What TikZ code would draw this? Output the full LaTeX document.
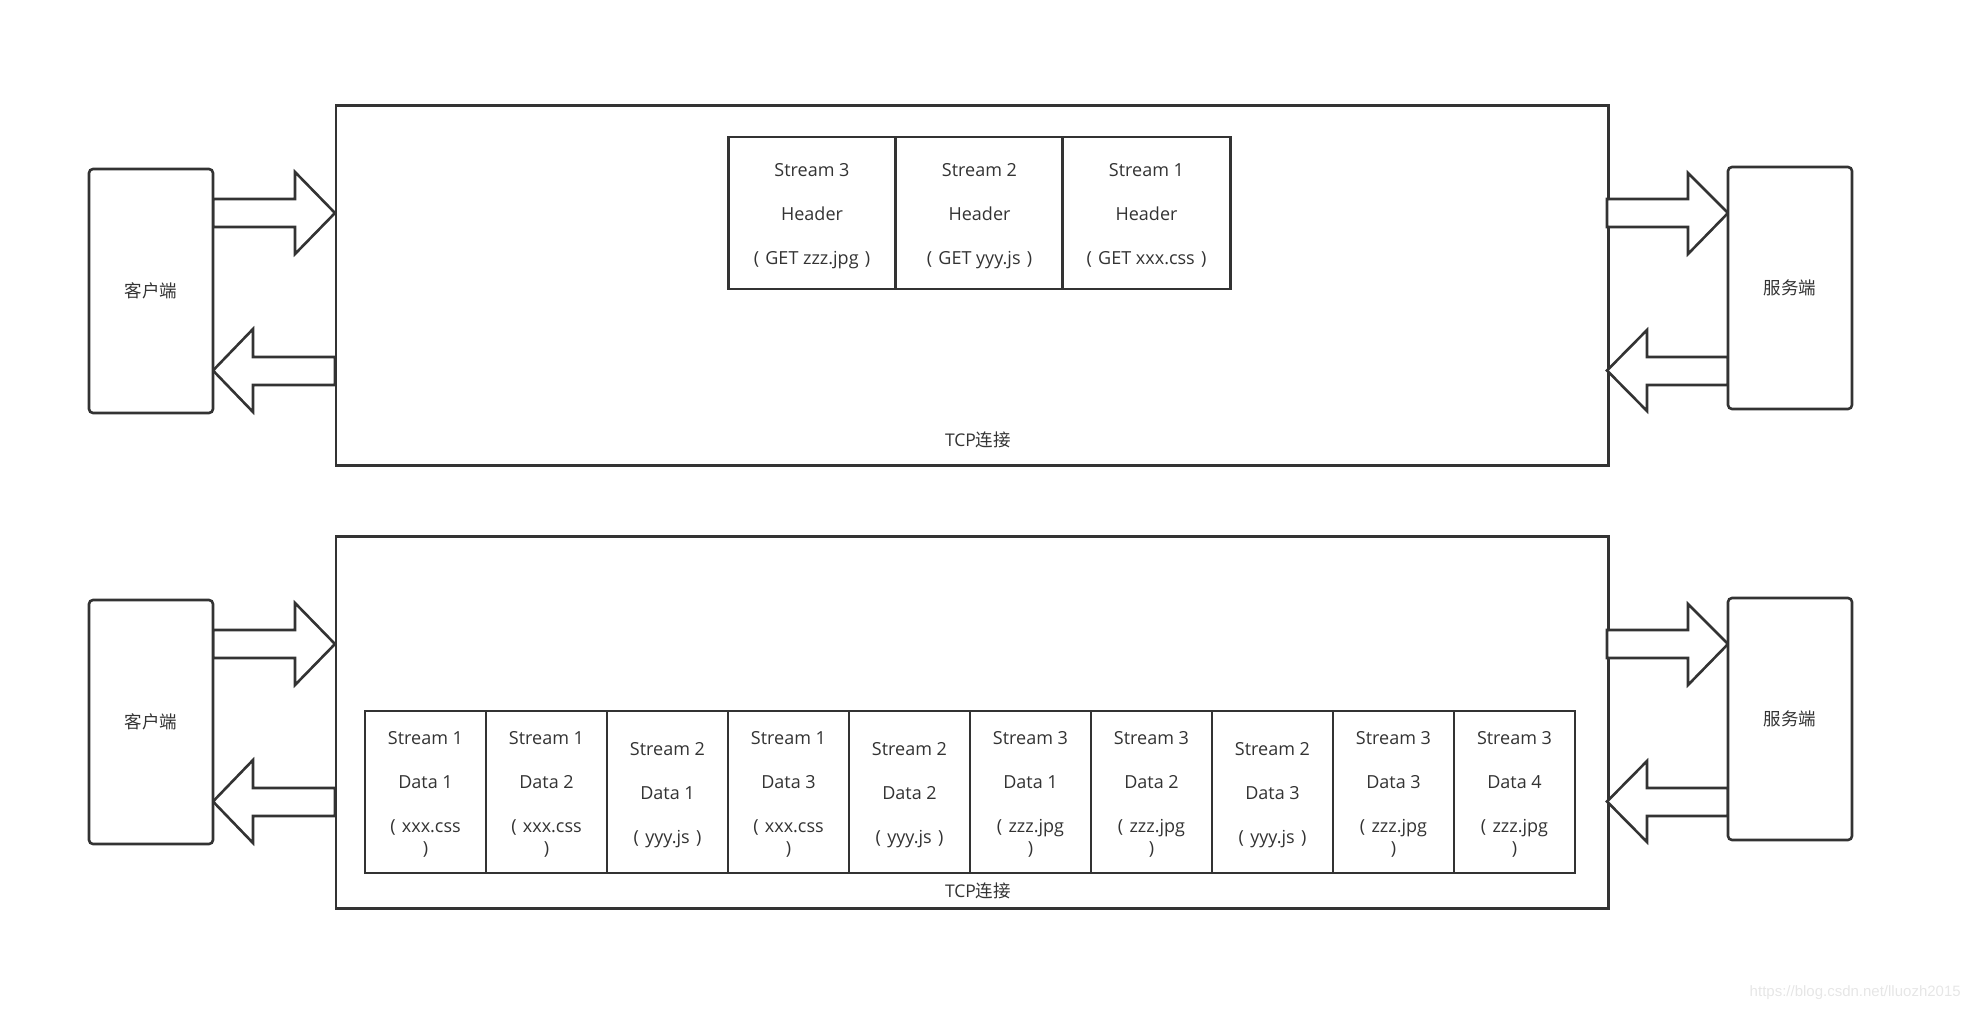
\documentclass[tikz,border=0pt]{standalone}
\usepackage{fontspec}
\setmainfont{Open Sans}
\newfontfamily\cjk{Noto Sans CJK SC}
\newfontfamily\wmfont{Liberation Sans}
\definecolor{ln}{HTML}{333333}
\definecolor{tx}{HTML}{333333}
\definecolor{wm}{HTML}{E6E6E6}
\newcommand{\ps}{\hspace{0.35em}}
\newcommand{\cs}{\rule[-6pt]{0pt}{20pt}}
\begin{document}
\begin{tikzpicture}[x=1pt,y=-1pt,
  line width=2.6pt, line join=miter,
  endbox/.style={draw=ln, fill=white, rounded corners=4pt, minimum width=124pt, minimum height=244pt, inner sep=0pt, text=tx, font=\cjk\fontsize{17.5}{22}\selectfont},
  tcpbox/.style={draw=ln, inner sep=0pt, anchor=north west},
  hdrbox/.style={draw=ln, fill=white, minimum width=167.5pt, minimum height=152pt, inner sep=0pt},
  datbox/.style={draw=ln, fill=white, minimum width=121pt, minimum height=162pt, inner sep=0pt},
  cell/.style={inner sep=0pt, align=center, text=tx, font=\fontsize{18}{22}\selectfont},
  fatarrow/.style={draw=ln, fill=white},
  lbl/.style={text=tx, inner sep=0pt, font=\fontsize{17.5}{22}\selectfont}
]
\useasboundingbox (0,0) rectangle (1972,1012);

% ---------------- Panel 1 ----------------
\node[tcpbox, minimum width=1272.5pt, minimum height=360pt] (tcpA) at (334.5,104) {};
\node[lbl] (tcpAlbl) at (978,440) {TCP{\cjk 连接}};

\draw[fatarrow] (213,199) -- (295,199) -- (295,172) -- (335,213) -- (295,254) -- (295,227) -- (213,227) -- cycle;
\draw[fatarrow] (335,357) -- (253,357) -- (253,329) -- (213,370.5) -- (253,412) -- (253,385) -- (335,385) -- cycle;
\draw[fatarrow] (1607,199) -- (1688,199) -- (1688,173) -- (1728,213) -- (1688,254) -- (1688,227) -- (1607,227) -- cycle;
\draw[fatarrow] (1728,357) -- (1647,357) -- (1647,330) -- (1607,370.5) -- (1647,411) -- (1647,385) -- (1728,385) -- cycle;

\node[endbox] (clientA) at (151,291) {客户端};
\node[endbox, minimum height=242pt] (serverA) at (1790,288) {服务端};

\node[hdrbox] (h3) at (812,213) {};
\node[hdrbox] (h2) at (979.5,213) {};
\node[hdrbox] (h1) at (1146.5,213) {};
\node[cell] (h3t) at ([yshift=-3.5pt]h3.center) {\cs Stream 3\\[22pt]Header\\[22pt]\cs(\ps GET zzz.jpg\ps)};
\node[cell] (h2t) at ([yshift=-3.5pt]h2.center) {\cs Stream 2\\[22pt]Header\\[22pt]\cs(\ps GET yyy.js\ps)};
\node[cell] (h1t) at ([yshift=-3.5pt]h1.center) {\cs Stream 1\\[22pt]Header\\[22pt]\cs(\ps GET xxx.css\ps)};

% ---------------- Panel 2 ----------------
\node[tcpbox, minimum width=1272.5pt, minimum height=372pt] (tcpB) at (334.5,535) {};
\node[lbl] (tcpBlbl) at (978,891) {TCP{\cjk 连接}};

\draw[fatarrow] (213,630) -- (295,630) -- (295,603) -- (335,644) -- (295,685) -- (295,658) -- (213,658) -- cycle;
\draw[fatarrow] (335,788) -- (253,788) -- (253,760) -- (213,801.5) -- (253,843) -- (253,816) -- (335,816) -- cycle;
\draw[fatarrow] (1607,630) -- (1688,630) -- (1688,604) -- (1728,644) -- (1688,685) -- (1688,658) -- (1607,658) -- cycle;
\draw[fatarrow] (1728,788) -- (1647,788) -- (1647,761) -- (1607,801.5) -- (1647,842) -- (1647,816) -- (1728,816) -- cycle;

\node[endbox] (clientB) at (151,722) {客户端};
\node[endbox, minimum height=242pt] (serverB) at (1790,719) {服务端};

\node[datbox] (d1)  at (425.5,792)  {};
\node[datbox] (d2)  at (546.5,792)  {};
\node[datbox] (d3)  at (667.5,792)  {};
\node[datbox] (d4)  at (788.5,792)  {};
\node[datbox] (d5)  at (909.5,792)  {};
\node[datbox] (d6)  at (1030.5,792) {};
\node[datbox] (d7)  at (1151.5,792) {};
\node[datbox] (d8)  at (1272.5,792) {};
\node[datbox] (d9)  at (1393.5,792) {};
\node[datbox] (d10) at (1514.5,792) {};
\node[cell] (d1t)  at ([yshift=-3.5pt]d1.center)  {\cs Stream 1\\[22pt]Data 1\\[22pt](\ps xxx.css\\\cs)};
\node[cell] (d2t)  at ([yshift=-3.5pt]d2.center)  {\cs Stream 1\\[22pt]Data 2\\[22pt](\ps xxx.css\\\cs)};
\node[cell] (d3t)  at ([yshift=-3.5pt]d3.center)  {\cs Stream 2\\[22pt]Data 1\\[22pt]\cs(\ps yyy.js\ps)};
\node[cell] (d4t)  at ([yshift=-3.5pt]d4.center)  {\cs Stream 1\\[22pt]Data 3\\[22pt](\ps xxx.css\\\cs)};
\node[cell] (d5t)  at ([yshift=-3.5pt]d5.center)  {\cs Stream 2\\[22pt]Data 2\\[22pt]\cs(\ps yyy.js\ps)};
\node[cell] (d6t)  at ([yshift=-3.5pt]d6.center)  {\cs Stream 3\\[22pt]Data 1\\[22pt](\ps zzz.jpg\\\cs)};
\node[cell] (d7t)  at ([yshift=-3.5pt]d7.center)  {\cs Stream 3\\[22pt]Data 2\\[22pt](\ps zzz.jpg\\\cs)};
\node[cell] (d8t)  at ([yshift=-3.5pt]d8.center)  {\cs Stream 2\\[22pt]Data 3\\[22pt]\cs(\ps yyy.js\ps)};
\node[cell] (d9t)  at ([yshift=-3.5pt]d9.center)  {\cs Stream 3\\[22pt]Data 3\\[22pt](\ps zzz.jpg\\\cs)};
\node[cell] (d10t) at ([yshift=-3.5pt]d10.center) {\cs Stream 3\\[22pt]Data 4\\[22pt](\ps zzz.jpg\\\cs)};

% watermark
\node[text=wm, inner sep=0pt, anchor=east, font=\wmfont\fontsize{15}{18}\selectfont] (wmark) at (1962,993) {https://blog.csdn.net/lluozh2015};
\end{tikzpicture}
\end{document}
